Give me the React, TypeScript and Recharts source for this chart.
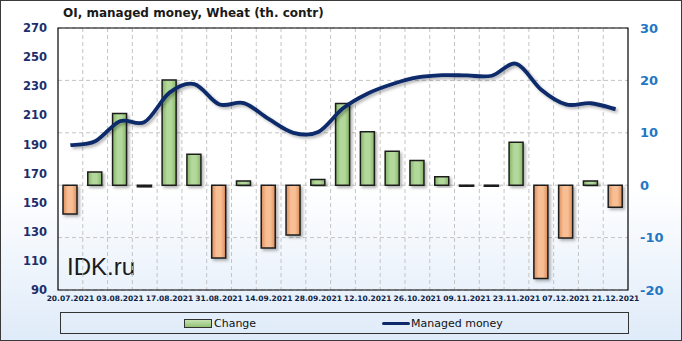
import { ComposedChart, Bar, Line, XAxis, YAxis, CartesianGrid, Cell, Legend, ReferenceArea } from 'recharts'

const dates = [
  '20.07.2021', '27.07.2021', '03.08.2021', '10.08.2021', '17.08.2021', '24.08.2021',
  '31.08.2021', '07.09.2021', '14.09.2021', '21.09.2021', '28.09.2021', '05.10.2021',
  '12.10.2021', '19.10.2021', '26.10.2021', '02.11.2021', '09.11.2021', '16.11.2021',
  '23.11.2021', '30.11.2021', '07.12.2021', '14.12.2021', '21.12.2021',
]
const change = [-5.5, 2.5, 13.7, -0.3, 20.1, 5.9, -13.9, 0.8, -12.0, -9.5, 1.1, 15.6, 10.2, 6.5, 4.7, 1.6, -0.2, -0.2, 8.2, -17.8, -10.1, 0.8, -4.2]
const managedMoney = [189.5, 192.2, 206.0, 205.5, 225.6, 231.5, 217.6, 218.4, 207.5, 198.0, 198.5, 214.8, 225.0, 231.5, 236.0, 237.6, 237.4, 237.2, 245.4, 227.6, 217.5, 218.3, 214.2]
const leftTicks = [90, 110, 130, 150, 170, 190, 210, 230, 250, 270]
const rightTicks = [-20, -10, 0, 10, 20, 30]

const data = dates.map((d, i) => ({ date: d, change: change[i], mm: managedMoney[i] }))

const NAVY = '#0c2a6a'

// Excel-style smoothed line (Catmull-Rom through the points)
function smoothCurve(context: any) {
  let pts: number[][] = []
  return {
    areaStart() {},
    areaEnd() {},
    lineStart() { pts = [] },
    point(x: number, y: number) { pts.push([+x, +y]) },
    lineEnd() {
      if (!pts.length) return
      context.moveTo(pts[0][0], pts[0][1])
      for (let i = 0; i < pts.length - 1; i++) {
        const p0 = pts[i - 1] || pts[i]
        const p1 = pts[i]
        const p2 = pts[i + 1]
        const p3 = pts[i + 2] || p2
        context.bezierCurveTo(
          p1[0] + (p2[0] - p0[0]) / 6, p1[1] + (p2[1] - p0[1]) / 6,
          p2[0] - (p3[0] - p1[0]) / 6, p2[1] - (p3[1] - p1[1]) / 6,
          p2[0], p2[1],
        )
      }
    },
  }
}

function LegendBox() {
  return (
    <div style={{ width: '100%', height: '100%', boxSizing: 'border-box', border: '1px solid #333', fontFamily: 'DejaVu Sans, sans-serif', fontSize: 11, color: '#111' }}>
      <div style={{ position: 'absolute', left: 124, top: 5, display: 'flex', alignItems: 'center' }}>
        <div style={{ width: 26, height: 7, border: '1px solid #333', background: 'linear-gradient(to bottom, #c6e3b2, #93c073)' }} />
        <span style={{ marginLeft: 2 }}>Change</span>
      </div>
      <div style={{ position: 'absolute', left: 322, top: 5, display: 'flex', alignItems: 'center' }}>
        <div style={{ width: 28, height: 3.5, borderRadius: 2, background: NAVY }} />
        <span style={{ marginLeft: 1 }}>Managed money</span>
      </div>
    </div>
  )
}

export default function App() {
  const n = dates.length
  return (
    <div style={{ position: 'absolute', left: 0, top: 0, width: 682, height: 341, boxSizing: 'border-box', border: '1px solid #3a3a3a', background: 'linear-gradient(to bottom, #ffffff 0%, #ffffff 55%, #dfebf9 100%)' }}>
      <div style={{ position: 'absolute', left: 62, top: 5, fontFamily: 'DejaVu Sans, sans-serif', fontWeight: 700, fontSize: 12, color: '#1a1a1a' }}>
        OI, managed money, Wheat (th. contr)
      </div>
      <div style={{ position: 'absolute', left: 66, top: 252, fontFamily: 'Liberation Sans, Arial, sans-serif', fontSize: 24, color: '#1a1a1a' }}>
        IDK.ru
      </div>
      <div style={{ position: 'absolute', left: -1, top: -1 }}>
        <ComposedChart width={682} height={341} data={data} margin={{ top: 28, right: 0, bottom: 0, left: 0 }} barCategoryGap={0}>
          <defs>
            <linearGradient id="gPos" x1="0" y1="0" x2="1" y2="0">
              <stop offset="0%" stopColor="#86b566" />
              <stop offset="35%" stopColor="#b3d89b" />
              <stop offset="65%" stopColor="#b3d89b" />
              <stop offset="100%" stopColor="#86b566" />
            </linearGradient>
            <linearGradient id="gNeg" x1="0" y1="0" x2="1" y2="0">
              <stop offset="0%" stopColor="#dc8d5c" />
              <stop offset="35%" stopColor="#f8bf95" />
              <stop offset="65%" stopColor="#f8bf95" />
              <stop offset="100%" stopColor="#dc8d5c" />
            </linearGradient>
            <filter id="shadow" x="-30%" y="-30%" width="160%" height="160%">
              <feDropShadow dx="2" dy="2" stdDeviation="1.5" floodColor="#000" floodOpacity="0.3" />
            </filter>
          </defs>
          <CartesianGrid
            yAxisId="right"
            stroke="#c4c4c4"
            strokeDasharray="4 3"
            verticalCoordinatesGenerator={({ offset }: any) =>
              Array.from({ length: n - 1 }, (_, i) => offset.left + ((i + 1) * offset.width) / n)
            }
          />
          <XAxis
            dataKey="date"
            interval={1}
            height={51}
            tickLine={false}
            axisLine={false}
            tickMargin={0}
            tick={{ fontFamily: 'DejaVu Sans, sans-serif', fontWeight: 700, fontSize: 7.5, fill: '#0f1f45' }}
          />
          <YAxis
            yAxisId="left"
            orientation="left"
            width={58}
            domain={[90, 270]}
            ticks={leftTicks}
            tickSize={0}
            tickMargin={11}
            axisLine={false}
            tick={{ fontFamily: 'DejaVu Sans, sans-serif', fontWeight: 700, fontSize: 11.5, fill: '#1b2e6b' }}
          />
          <YAxis
            yAxisId="right"
            orientation="right"
            width={54}
            domain={[-20, 30]}
            ticks={rightTicks}
            tickSize={0}
            tickMargin={12}
            axisLine={false}
            tick={{ fontFamily: 'DejaVu Sans, sans-serif', fontWeight: 700, fontSize: 13, fill: '#1f77c4' }}
          />
          <ReferenceArea yAxisId="right" y1={-20} y2={30} fill="none" stroke="#000" strokeWidth={1.2} ifOverflow="visible" />
          <Bar yAxisId="right" dataKey="change" barSize={14} stroke="#1e1e1e" strokeWidth={1.5} isAnimationActive={false} filter="url(#shadow)">
            {data.map((d, i) => (
              <Cell key={`c-${i}`} fill={d.change >= 0 ? 'url(#gPos)' : 'url(#gNeg)'} />
            ))}
          </Bar>
          <Line yAxisId="left" dataKey="mm" type={smoothCurve as any} stroke={NAVY} strokeWidth={3.8} dot={false} activeDot={false} isAnimationActive={false} filter="url(#shadow)" />
          <Legend
            verticalAlign="middle"
            align="center"
            content={() => <LegendBox />}
            wrapperStyle={{ top: 312, left: 60, width: 569, height: 22 }}
          />
        </ComposedChart>
      </div>
    </div>
  )
}
